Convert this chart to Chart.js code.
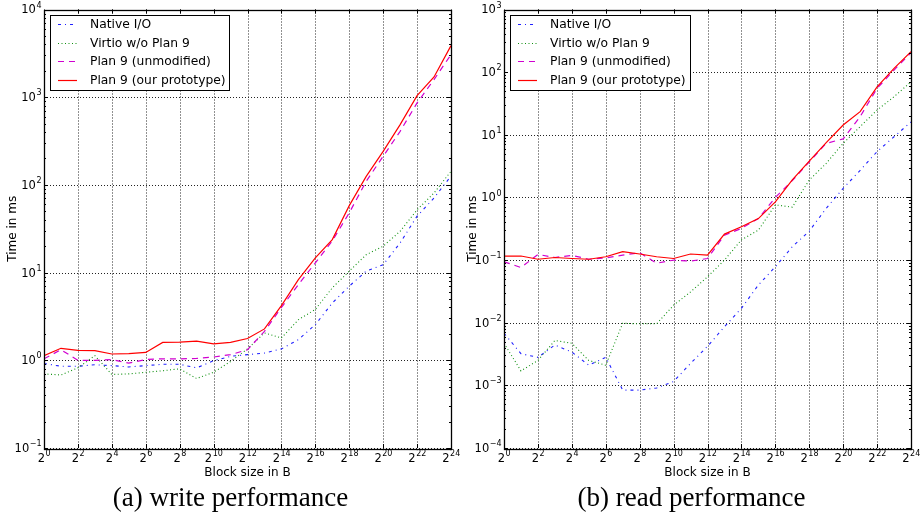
<!DOCTYPE html>
<html>
<head>
<meta charset="utf-8">
<script src="https://cdn.jsdelivr.net/npm/chart.js@4.4.1/dist/chart.umd.min.js"></script>
<style>
  body { margin: 0; background: #fff; width: 922px; height: 516px; overflow: hidden; position: relative; }
  .box { position: absolute; top: 0; width: 461px; height: 482px; }
  .cap { position: absolute; top: 481px; width: 461px; text-align: center;
         font-family: "Liberation Serif", serif; font-size: 27px; line-height: 32px; color: #000; }
</style>
</head>
<body>
<div class="box" style="left:0"><canvas id="c-write" width="461" height="482"></canvas></div>
<div class="box" style="left:461px"><canvas id="c-read" width="461" height="482"></canvas></div>
<div class="cap" style="left:0">(a) write performance</div>
<div class="cap" style="left:461px">(b) read performance</div>
<script>
// block size exponents (2^n bytes)
const exps = [0, 1, 2, 3, 4, 5, 6, 7, 8, 9, 10, 11, 12, 13, 14, 15, 16, 17, 18, 19, 20, 21, 22, 23, 24];
const seriesNames = ['Native I/O', 'Virtio w/o Plan 9', 'Plan 9 (unmodified)', 'Plan 9 (our prototype)'];

// write times in ms
const writeNative = [0.92, 0.855, 0.855, 0.89, 0.87, 0.84, 0.87, 0.9, 0.9, 0.82, 0.99, 1.11, 1.16, 1.21, 1.35, 1.72, 2.55, 4.5, 7.0, 10.4, 12.3, 21.8, 44, 71, 126];
const writeVirtio = [0.70, 0.68, 0.82, 1.13, 0.69, 0.70, 0.73, 0.76, 0.80, 0.62, 0.73, 0.97, 1.35, 2.05, 1.8, 2.9, 3.8, 6.7, 10.4, 16, 20, 29.6, 52, 81, 143];
const writeP9 = [1.04, 1.32, 1.0, 1.0, 1.02, 0.93, 1.02, 1.04, 1.04, 1.05, 1.09, 1.16, 1.32, 2.14, 4.0, 7.3, 12.9, 23, 48, 110, 212, 408, 860, 1590, 3060];
const writeProto = [1.13, 1.37, 1.30, 1.29, 1.18, 1.19, 1.23, 1.60, 1.61, 1.65, 1.54, 1.60, 1.77, 2.28, 4.2, 8.3, 14.7, 23.8, 58, 125, 241, 487, 1043, 1700, 3870];

// read times in ms
const readNative = [0.0068, 0.0032, 0.0028, 0.0044, 0.0034, 0.0021, 0.0028, 0.00084, 0.00084, 0.00091, 0.00115, 0.00224, 0.0042, 0.0086, 0.017, 0.04, 0.078, 0.163, 0.29, 0.67, 1.4, 2.7, 5.4, 9.3, 16];
const readVirtio = [0.0047, 0.0017, 0.0025, 0.0052, 0.0047, 0.0025, 0.0021, 0.0098, 0.0096, 0.0096, 0.019, 0.031, 0.054, 0.1, 0.21, 0.30, 0.76, 0.70, 1.9, 3.5, 7.3, 13.5, 24.8, 40.5, 70];
const readP9 = [0.094, 0.076, 0.123, 0.11, 0.119, 0.103, 0.108, 0.12, 0.131, 0.089, 0.1, 0.096, 0.106, 0.25, 0.32, 0.46, 1.0, 1.85, 3.7, 7.3, 8.6, 19.5, 55, 108, 204];
const readProto = [0.116, 0.116, 0.103, 0.110, 0.106, 0.103, 0.113, 0.136, 0.125, 0.113, 0.106, 0.125, 0.12, 0.26, 0.34, 0.46, 0.85, 1.9, 3.8, 7.5, 14.3, 23.4, 58, 115, 212];

const styles = [
  { color: '#2020ff', dash: [3, 4, 1, 4], width: 1.1 },
  { color: '#109010', dash: [1, 2.5], width: 1.1 },
  { color: '#d000d0', dash: [6, 5], width: 1.2 },
  { color: '#ff0000', dash: [], width: 1.2 },
];

const FONT = '"DejaVu Sans", sans-serif';

function drawPow(ctx, base, exp, x, y, align) {
  ctx.font = '11.5px ' + FONT;
  const bw = ctx.measureText(base).width;
  ctx.font = '8px ' + FONT;
  const ew = ctx.measureText(exp).width;
  const x0 = align === 'right' ? x - bw - ew : x - (bw + ew) / 2;
  ctx.textAlign = 'left';
  ctx.textBaseline = 'middle';
  ctx.fillStyle = '#000';
  ctx.font = '11.5px ' + FONT;
  ctx.fillText(base, x0, y);
  ctx.font = '8px ' + FONT;
  ctx.fillText(exp, x0 + bw + 0.5, y - 5);
}

const framePlugin = {
  id: 'frame',
  beforeDatasetsDraw(chart) {
    const { ctx, chartArea: a, scales: { x, y } } = chart;
    const decades = chart.options.plugins.frame.decades;
    ctx.save();
    ctx.strokeStyle = '#222';
    ctx.lineWidth = 1;
    ctx.setLineDash([1, 2]);
    exps.filter(e => e % 2 === 0 && e > 0 && e < 24).forEach(e => {
      const px = Math.round(x.getPixelForValue(e)) + 0.5;
      ctx.beginPath(); ctx.moveTo(px, a.top); ctx.lineTo(px, a.bottom); ctx.stroke();
    });
    decades.forEach(d => {
      const py = Math.round(y.getPixelForValue(Math.pow(10, d))) + 0.5;
      ctx.beginPath(); ctx.moveTo(a.left, py); ctx.lineTo(a.right, py); ctx.stroke();
    });
    ctx.restore();
  },
  afterDatasetsDraw(chart) {
    const { ctx, chartArea: a, scales: { x, y } } = chart;
    const o = chart.options.plugins.frame;
    ctx.save();
    ctx.strokeStyle = '#000';
    ctx.lineWidth = 1;
    ctx.setLineDash([]);
    // ticks
    ctx.beginPath();
    exps.filter(e => e % 2 === 0).forEach(e => {
      const px = Math.round(x.getPixelForValue(e)) + 0.5;
      ctx.moveTo(px, a.bottom); ctx.lineTo(px, a.bottom - 4);
      ctx.moveTo(px, a.top); ctx.lineTo(px, a.top + 4);
    });
    o.decades.forEach((d, i) => {
      for (let m = 1; m <= 9; m++) {
        if (i === o.decades.length - 1 && m > 1) break;
        const py = Math.round(y.getPixelForValue(m * Math.pow(10, d))) + 0.5;
        const len = m === 1 ? 4 : 2;
        ctx.moveTo(a.left, py); ctx.lineTo(a.left + len, py);
        ctx.moveTo(a.right, py); ctx.lineTo(a.right - len, py);
      }
    });
    ctx.stroke();
    // box
    ctx.lineWidth = 1.3;
    ctx.strokeRect(Math.round(a.left) + 0.5, Math.round(a.top) + 0.5, Math.round(a.right - a.left), Math.round(a.bottom - a.top));
    // tick labels
    o.decades.forEach(d => {
      drawPow(ctx, '10', String(d).replace('-', '−'), a.left - 3, y.getPixelForValue(Math.pow(10, d)) + 1, 'right');
    });
    exps.filter(e => e % 2 === 0).forEach(e => {
      drawPow(ctx, '2', String(e), x.getPixelForValue(e), a.bottom + 11, 'center');
    });
    // axis titles
    ctx.fillStyle = '#000';
    ctx.font = '12px ' + FONT;
    ctx.textAlign = 'center';
    ctx.textBaseline = 'middle';
    ctx.fillText('Block size in B', (a.left + a.right) / 2, a.bottom + 25);
    ctx.save();
    ctx.translate(a.left - 31, (a.top + a.bottom) / 2);
    ctx.rotate(-Math.PI / 2);
    ctx.fillText('Time in ms', 0, 0);
    ctx.restore();
    // legend
    const lx = a.left + 6, ly = a.top + 5.5, lw = o.legendWidth, lh = 75;
    ctx.fillStyle = '#fff';
    ctx.fillRect(lx, ly, lw, lh);
    ctx.lineWidth = 1;
    ctx.strokeStyle = '#000';
    ctx.strokeRect(Math.round(lx) + 0.5, Math.round(ly) + 0.5, lw, lh);
    seriesNames.forEach((name, i) => {
      const cy = Math.round(ly + 9.3 + 18.4 * i) + 0.5;
      const st = styles[i];
      ctx.strokeStyle = st.color;
      ctx.lineWidth = st.width;
      ctx.setLineDash(st.dash);
      ctx.beginPath(); ctx.moveTo(lx + 8, cy); ctx.lineTo(lx + 27, cy); ctx.stroke();
      ctx.setLineDash([]);
      ctx.fillStyle = '#000';
      ctx.font = '12.3px ' + FONT;
      ctx.textAlign = 'left';
      ctx.textBaseline = 'middle';
      ctx.fillText(name, lx + 40, cy + 0.5);
    });
    ctx.restore();
  }
};

function makeChart(id, series, yMin, yMax, decades, leftW, rightPad, legendWidth) {
  const datasets = series.map((vals, i) => ({
    label: seriesNames[i],
    data: exps.map((e, j) => ({ x: e, y: vals[j] })),
    borderColor: styles[i].color,
    borderDash: styles[i].dash,
    borderWidth: styles[i].width,
    pointRadius: 0,
    tension: 0,
    fill: false,
    order: 3 - i,
  }));
  return new Chart(document.getElementById(id), {
    type: 'line',
    data: { datasets },
    plugins: [framePlugin],
    options: {
      responsive: false,
      animation: false,
      devicePixelRatio: 1,
      layout: { padding: { top: 9.5, right: rightPad, left: 0, bottom: 0 } },
      plugins: {
        legend: { display: false },
        tooltip: { enabled: false },
        frame: { decades, legendWidth },
      },
      scales: {
        x: {
          type: 'linear', min: 0, max: 24,
          grid: { display: false }, border: { display: false }, ticks: { display: false },
          afterFit: (s) => { s.height = 34; },
        },
        y: {
          type: 'logarithmic', min: yMin, max: yMax,
          grid: { display: false }, border: { display: false }, ticks: { display: false },
          afterFit: (s) => { s.width = leftW; },
        },
      },
    },
  });
}

makeChart('c-write', [writeNative, writeVirtio, writeP9, writeProto], 0.1, 10000, [-1, 0, 1, 2, 3, 4], 44, 10, 179);
makeChart('c-read', [readNative, readVirtio, readP9, readProto], 0.0001, 1000, [-4, -3, -2, -1, 0, 1, 2, 3], 43, 11, 180);
</script>
</body>
</html>
